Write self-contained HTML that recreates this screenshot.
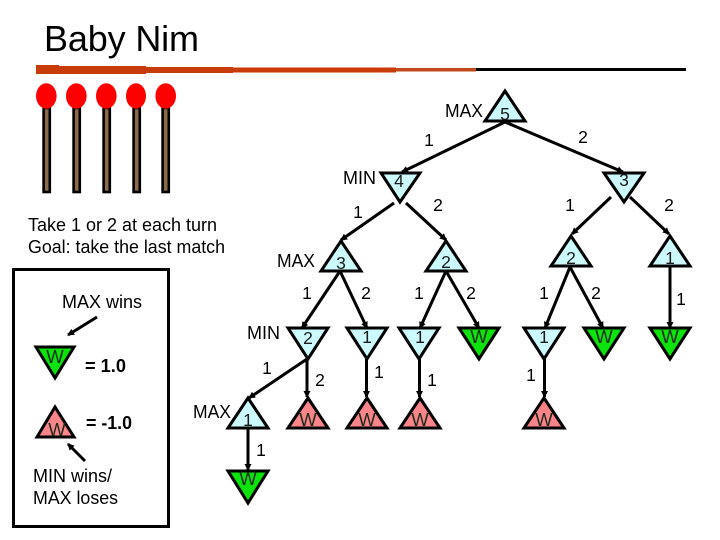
<!DOCTYPE html>
<html>
<head>
<meta charset="utf-8">
<style>
html,body{margin:0;padding:0;background:#fff;width:720px;height:540px;overflow:hidden}
svg{display:block}
text{font-family:"Liberation Sans",sans-serif;fill:#000}
.l{font-size:18px}
.n{font-size:17.5px;text-anchor:middle}
.c{font-size:17.5px;text-anchor:middle;fill:#1a1a1a}
.w{font-size:18.5px;text-anchor:middle;fill:#1a2a1a}
.e{stroke:#000;stroke-width:3;fill:none}
.t{stroke:#000;stroke-width:3;stroke-linejoin:miter}
.b{fill:#ccf9fb}.g{fill:#0ce20c}.r{fill:#f9858a}
.s{fill:#8a6a48;stroke:#000;stroke-width:2.6}
.h{fill:#fe0000}
</style>
</head>
<body>
<svg width="720" height="540" viewBox="0 0 720 540" xmlns="http://www.w3.org/2000/svg">
<defs>
<marker id="a" markerWidth="8" markerHeight="8" refX="6" refY="4" orient="auto" markerUnits="userSpaceOnUse"><path d="M0,0.500 L7,4 L0,7.500 Z" fill="#000"/></marker>
</defs>

<text x="44" y="51" font-size="36" textLength="155">Baby Nim</text>

<rect x="36" y="65" width="23" height="9" fill="#c83c0a"/>
<rect x="36" y="66" width="110" height="8" fill="#c83c0a"/>
<rect x="36" y="67" width="197" height="6" fill="#c83c0a"/>
<rect x="36" y="67.500" width="360" height="5" fill="#c83c0a"/>
<rect x="396" y="68" width="80" height="3.500" fill="#c0481a"/>
<rect x="476" y="68" width="210" height="3" fill="#000"/>

<rect x="43.600" y="108" width="6.200" height="84" class="s"/><ellipse cx="46.300" cy="96" rx="10.300" ry="12.700" class="h"/>
<rect x="73.600" y="108" width="6.200" height="84" class="s"/><ellipse cx="76.300" cy="96" rx="10.300" ry="12.700" class="h"/>
<rect x="103.600" y="108" width="6.200" height="84" class="s"/><ellipse cx="106.300" cy="96" rx="10.300" ry="12.700" class="h"/>
<rect x="133.600" y="108" width="6.200" height="84" class="s"/><ellipse cx="136" cy="96" rx="10" ry="12.700" class="h"/>
<rect x="162.600" y="108" width="6.200" height="84" class="s"/><ellipse cx="165.700" cy="96" rx="10.300" ry="12.700" class="h"/>

<text x="28" y="231" class="l" textLength="189" lengthAdjust="spacingAndGlyphs">Take 1 or 2 at each turn</text>
<text x="28" y="253" class="l" textLength="197" lengthAdjust="spacingAndGlyphs">Goal: take the last match</text>

<rect x="13.500" y="269.500" width="155" height="257" fill="none" stroke="#000" stroke-width="3"/>
<text x="62" y="308" class="l" textLength="80" lengthAdjust="spacingAndGlyphs">MAX wins</text>
<line x1="97" y1="317" x2="68" y2="335" class="e" marker-end="url(#a)"/>
<polygon points="36,347 74,347 55,378" class="t g"/>
<text x="55" y="363" class="w">W</text>
<text x="85" y="372" class="l" font-weight="bold" textLength="41" lengthAdjust="spacingAndGlyphs">= 1.0</text>
<polygon points="55,407 37,437 74,437" class="t r"/>
<text x="57" y="436" class="w">W</text>
<text x="86" y="429" class="l" font-weight="bold" textLength="46" lengthAdjust="spacingAndGlyphs">= -1.0</text>
<line x1="85" y1="461" x2="68" y2="444" class="e" marker-end="url(#a)"/>
<text x="33" y="482" class="l" textLength="79" lengthAdjust="spacingAndGlyphs">MIN wins/</text>
<text x="33" y="504" class="l" textLength="85" lengthAdjust="spacingAndGlyphs">MAX loses</text>

<line x1="505" y1="122" x2="402" y2="172" class="e" marker-end="url(#a)"/>
<line x1="505" y1="122" x2="623" y2="172" class="e" marker-end="url(#a)"/>
<line x1="394" y1="203" x2="341" y2="240" class="e" marker-end="url(#a)"/>
<line x1="406" y1="203" x2="446" y2="240" class="e" marker-end="url(#a)"/>
<line x1="611" y1="197" x2="572" y2="234" class="e" marker-end="url(#a)"/>
<line x1="630" y1="197" x2="669" y2="234" class="e" marker-end="url(#a)"/>
<line x1="340" y1="271" x2="302" y2="328" class="e" marker-end="url(#a)"/>
<line x1="340" y1="271" x2="367" y2="328" class="e" marker-end="url(#a)"/>
<line x1="446" y1="271" x2="420" y2="328" class="e" marker-end="url(#a)"/>
<line x1="446" y1="271" x2="479" y2="328" class="e" marker-end="url(#a)"/>
<line x1="570" y1="267" x2="545" y2="328" class="e" marker-end="url(#a)"/>
<line x1="570" y1="267" x2="603" y2="328" class="e" marker-end="url(#a)"/>
<line x1="670" y1="262" x2="670" y2="328" class="e" marker-end="url(#a)"/>
<line x1="307" y1="359" x2="249" y2="398" class="e" marker-end="url(#a)"/>
<line x1="307" y1="359" x2="307" y2="397" class="e" marker-end="url(#a)"/>
<line x1="366.500" y1="359" x2="366.500" y2="397" class="e" marker-end="url(#a)"/>
<line x1="419.500" y1="359" x2="419.500" y2="397" class="e" marker-end="url(#a)"/>
<line x1="544.500" y1="359" x2="544.500" y2="397" class="e" marker-end="url(#a)"/>
<line x1="248" y1="428" x2="248" y2="470" class="e" marker-end="url(#a)"/>

<polygon points="505,91 485,121 525,121" class="t b"/>
<polygon points="381,173 420,173 400,202" class="t b"/>
<polygon points="604,173 644,173 624,202" class="t b"/>
<polygon points="341,241 321,271 361,271" class="t b"/>
<polygon points="446,241 426,271 466,271" class="t b"/>
<polygon points="571,236 551,266 591,266" class="t b"/>
<polygon points="670,236 650,266 690,266" class="t b"/>
<polygon points="288,328 328,328 308,359" class="t b"/>
<polygon points="347,328 387,328 367,359" class="t b"/>
<polygon points="399,328 439,328 419,359" class="t b"/>
<polygon points="459,328 499,328 479,359" class="t g"/>
<polygon points="524,328 564,328 544,359" class="t b"/>
<polygon points="584,328 624,328 604,359" class="t g"/>
<polygon points="650,328 690,328 670,359" class="t g"/>
<polygon points="248,398 228,428 268,428" class="t b"/>
<polygon points="308,398 288,428 328,428" class="t r"/>
<polygon points="367,398 347,428 387,428" class="t r"/>
<polygon points="420,398 400,428 440,428" class="t r"/>
<polygon points="544,398 524,428 564,428" class="t r"/>
<polygon points="228,471 268,471 248,503" class="t g"/>

<text x="505" y="120" class="c">5</text>
<text x="399" y="187" class="c">4</text>
<text x="624" y="186" class="c">3</text>
<text x="341" y="269" class="c">3</text>
<text x="446" y="268" class="c">2</text>
<text x="571" y="264" class="c">2</text>
<text x="670" y="264" class="c">1</text>
<text x="308" y="344" class="c">2</text>
<text x="367" y="343" class="c">1</text>
<text x="420" y="343" class="c">1</text>
<text x="479" y="343" class="w">W</text>
<text x="544" y="343" class="c">1</text>
<text x="604" y="343" class="w">W</text>
<text x="670" y="343" class="w">W</text>
<text x="248" y="426" class="c">1</text>
<text x="308" y="426" class="w">W</text>
<text x="367" y="426" class="w">W</text>
<text x="420" y="426" class="w">W</text>
<text x="544" y="426" class="w">W</text>
<text x="248" y="485" class="w">W</text>

<text x="445" y="117" class="l" textLength="38" lengthAdjust="spacingAndGlyphs">MAX</text>
<text x="343" y="184" class="l" textLength="33" lengthAdjust="spacingAndGlyphs">MIN</text>
<text x="277" y="267" class="l" textLength="38" lengthAdjust="spacingAndGlyphs">MAX</text>
<text x="247" y="339" class="l" textLength="33" lengthAdjust="spacingAndGlyphs">MIN</text>
<text x="193" y="418" class="l" textLength="38" lengthAdjust="spacingAndGlyphs">MAX</text>

<text x="429" y="146" class="n">1</text>
<text x="583" y="143" class="n">2</text>
<text x="358" y="218" class="n">1</text>
<text x="438" y="211" class="n">2</text>
<text x="570" y="211" class="n">1</text>
<text x="669" y="211" class="n">2</text>
<text x="307" y="299" class="n">1</text>
<text x="366" y="299" class="n">2</text>
<text x="419" y="299" class="n">1</text>
<text x="471" y="299" class="n">2</text>
<text x="544" y="299" class="n">1</text>
<text x="596" y="299" class="n">2</text>
<text x="681" y="305" class="n">1</text>
<text x="267" y="374" class="n">1</text>
<text x="320" y="386" class="n">2</text>
<text x="379" y="378" class="n">1</text>
<text x="432" y="386" class="n">1</text>
<text x="531" y="381" class="n">1</text>
<text x="261" y="456" class="n">1</text>
</svg>
</body>
</html>
